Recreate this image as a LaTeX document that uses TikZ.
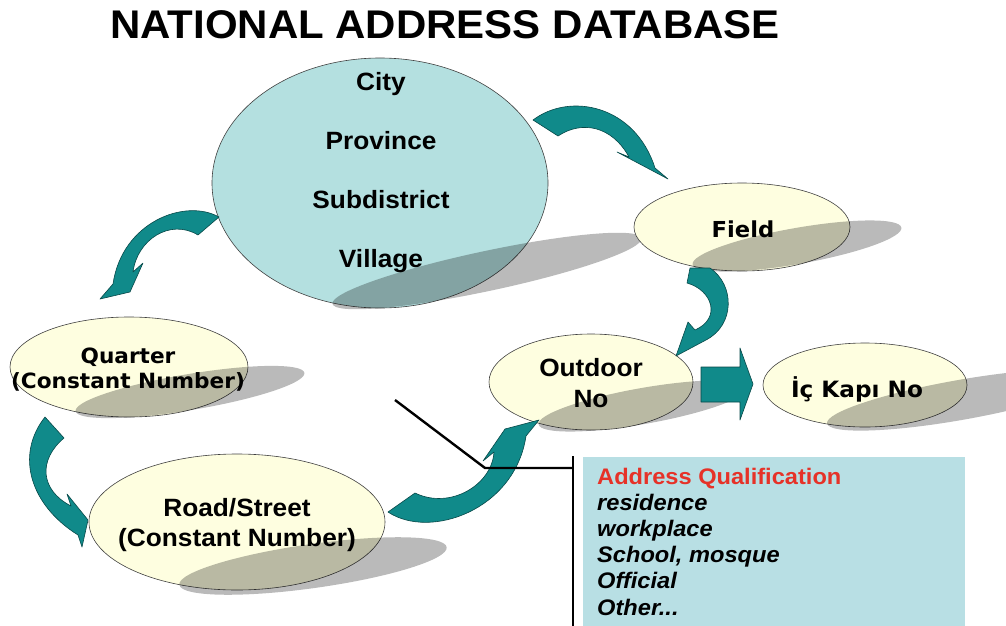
\documentclass[tikz,border=0pt]{standalone}
\usepackage{fontspec}
\setmainfont{Liberation Sans}[FakeStretch=1.05]
\newfontfamily\tahoma{DejaVu Sans}[FakeStretch=1.03]
\usepackage{tikz}
\usetikzlibrary{shapes.geometric}

\definecolor{adminblue}{HTML}{B4E0E0}
\definecolor{ovalcream}{HTML}{FEFEE0}
\definecolor{arrowteal}{HTML}{108A8A}
\definecolor{arrowedge}{HTML}{074848}
\definecolor{qualblue}{HTML}{B8DFE4}
\definecolor{qualred}{HTML}{E63228}

\begin{document}
\begin{tikzpicture}[x=1pt, y=-1pt]
    \tikzset{
        oval/.style={ellipse, draw=black!75, line width=0.6pt, fill=ovalcream, inner sep=0pt},
        castshadow/.style={fill=black, fill opacity=0.27},
        bentarrow/.style={fill=arrowteal, draw=arrowedge, line width=0.6pt, line join=round},
        callout/.style={draw=black, line width=2.4pt}
    }

    \useasboundingbox (0,0) rectangle (1006,626);

    % Title
    \node[anchor=base, font=\bfseries\fontsize{40}{40}\selectfont] (title) at (445,39) {NATIONAL ADDRESS DATABASE};

    % Draw the big circle and its shadow
    \node[oval, fill=adminblue, minimum width=336, minimum height=250] (admin) at (380,183) {};
    \fill[castshadow, rotate around={12:(487,271)}] (487,271) ellipse [x radius=158, y radius=20];

    % Draw the other ovals
    \node[oval, minimum width=216, minimum height=88] (field) at (742,227) {};
    \node[oval, minimum width=238, minimum height=100] (quarter) at (129,367) {};
    \node[oval, minimum width=296, minimum height=136] (road) at (237,522) {};
    \node[oval, minimum width=204, minimum height=96] (outdoor) at (591,382) {};
    \node[oval, minimum width=204, minimum height=84] (innerdoor) at (865,385) {};

    % Shadows
    \fill[castshadow, rotate around={10:(797,246)}] (797,246) ellipse [x radius=106, y radius=18];
    \fill[castshadow, rotate around={9.5:(190,392)}] (190,392) ellipse [x radius=116, y radius=18];
    \fill[castshadow, rotate around={8:(313,566)}] (313,566) ellipse [x radius=135, y radius=22];
    \fill[castshadow, rotate around={10:(643,406)}] (643,406) ellipse [x radius=106, y radius=18];
    \fill[castshadow, rotate around={10:(960,400)}] (960,400) ellipse [x radius=135, y radius=20];

    % Texts
    \node[align=center, font=\bfseries\fontsize{25}{59}\selectfont] (adminText) at (381,173) {City\\Province\\Subdistrict\\Village};
    \node[anchor=base, font=\tahoma\bfseries\fontsize{22}{22}\selectfont] (fieldText) at (743,237) {Field};
    \node[align=center, font=\tahoma\bfseries\fontsize{21}{25}\selectfont] (quarterText) at (128,370) {Quarter\\(Constant Number)};
    \node[align=center, font=\bfseries\fontsize{25}{30}\selectfont] (roadText) at (237,525) {Road/Street\\(Constant Number)};
    \node[align=center, font=\bfseries\fontsize{25}{31}\selectfont] (outdoorText) at (591,383) {Outdoor\\No};
    \node[anchor=base, font=\tahoma\bfseries\fontsize{22.5}{22.5}\selectfont] (innerdoorText) at (857,397) {İç Kapı No};

    % Draw the bent arrows
    \draw[bentarrow] (533,120) .. controls (570,92) and (635,105) .. (655,168)
        -- (668,179) -- (617,152) -- (629,157)
        .. controls (612,126) and (582,120) .. (558,136) -- cycle;
    \draw[bentarrow] (219,217) .. controls (185,198) and (122,222) .. (113,284)
        -- (100,299) -- (130,292) -- (143,263) -- (133,272)
        .. controls (137,240) and (170,218) .. (198,235) -- cycle;
    \draw[bentarrow] (45,417) .. controls (15,455) and (30,505) .. (78,535)
        -- (82,547) -- (88,520) -- (67,494) -- (71,506)
        .. controls (40,490) and (38,460) .. (64,438) -- cycle;
    \draw[bentarrow] (415,493) -- (388,512) .. controls (430,540) and (515,510) .. (526,436)
        -- (539,420) -- (505,429) -- (483,461) -- (494,452)
        .. controls (492,485) and (450,510) .. (415,493) -- cycle;
    \draw[bentarrow] (710,268) .. controls (735,285) and (735,325) .. (706,340)
        -- (676,356) -- (688,322) -- (695,330)
        .. controls (722,318) and (712,290) .. (687,283) -- (690,268) -- cycle;

    % Straight block arrow
    \draw[bentarrow] (701,367) -- (740,367) -- (740,348) -- (753,384)
        -- (740,420) -- (740,402) -- (701,402) -- cycle;

    % Qualification box
    \node[fill=qualblue, anchor=north west, minimum width=382, minimum height=180, inner sep=0pt] (qualBox) at (583,457) {};
    \node[anchor=north west, inner sep=0pt, align=left, font=\bfseries\itshape\fontsize{22.5}{26.1}\selectfont] (qualText) at (597,468)
        {\textcolor{qualred}{\upshape Address Qualification}\\residence\\workplace\\School, mosque\\Official\\Other...};

    % Callout line
    \coordinate (calloutTip) at (395,400);
    \coordinate (calloutBend) at (485,468);
    \coordinate (bracketTop) at (573,456);
    \coordinate (bracketBottom) at (573,630);
    \draw[callout] (calloutTip) -- (calloutBend) -- (calloutBend -| bracketTop);
    \draw[callout] (bracketTop) -- (bracketBottom);
\end{tikzpicture}
\end{document}
